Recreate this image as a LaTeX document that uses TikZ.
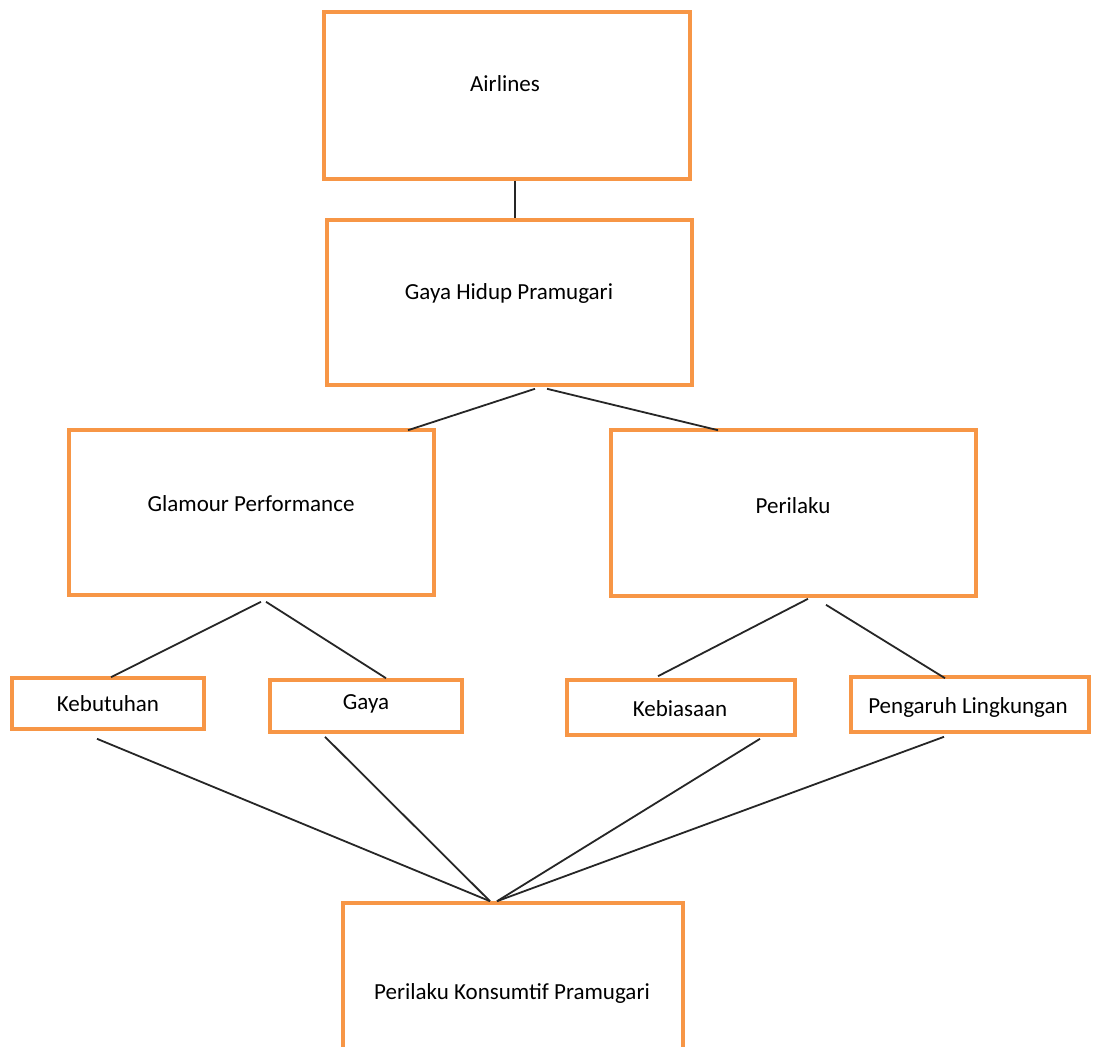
\documentclass[tikz,border=0pt]{standalone}
\usepackage{fontspec}
\setmainfont{Carlito}
\definecolor{boxorange}{RGB}{247,150,70}
\begin{document}
\begin{tikzpicture}[x=1pt,y=-1pt,
  box/.style={draw=boxorange,line width=3.6pt,rectangle,inner sep=0pt,fill=none},
  lbl/.style={font=\fontsize{23}{28}\selectfont,text=black},
  conn/.style={draw=black!85,line width=1.8pt}]
\fill[white] (0,0) rectangle (1094,1046);
\useasboundingbox (0,0) rectangle (1094,1046);
\clip (0,0) rectangle (1094,1046);
% boxes (empty), texts placed separately
\node[box,minimum width=366pt,minimum height=167pt] (air) at (507,95.5) {};
\node[box,minimum width=365pt,minimum height=165pt] (gh) at (509.5,302.5) {};
\node[box,minimum width=365pt,minimum height=165pt] (gl) at (251.5,512.5) {};
\node[box,minimum width=365pt,minimum height=166pt] (pe) at (793.5,513) {};
\node[box,minimum width=192pt,minimum height=51pt] (kb) at (108,703.5) {};
\node[box,minimum width=192pt,minimum height=52pt] (gy) at (366,706) {};
\node[box,minimum width=228pt,minimum height=55pt] (ki) at (681,707.5) {};
\node[box,minimum width=238pt,minimum height=55pt] (pg) at (970,704.5) {};
\node[box,minimum width=340pt,minimum height=180pt] (fn) at (513,993) {};
% texts
\node[lbl] (airT) at (505,84) {Airlines};
\node[lbl] (ghT) at (509,293) {Gaya Hidup Pramugari};
\node[lbl] (glT) at (251,504) {Glamour Performance};
\node[lbl] (peT) at (793,506) {Perilaku};
\node[lbl] (kbT) at (108,704) {Kebutuhan};
\node[lbl] (gyT) at (366,704) {Gaya};
\node[lbl] (kiT) at (680,709) {Kebiasaan};
\node[lbl] (pgT) at (968,707) {Pengaruh Lingkungan};
\node[lbl] (fnT) at (512,993) {Perilaku Konsumtif Pramugari};
% connectors
\draw[conn] ([xshift=8pt]air.south) -- ([xshift=5.5pt]gh.north);
\draw[conn] ([xshift=25.5pt,yshift=-2pt]gh.south) -- ([xshift=156.5pt,yshift=-2pt]gl.north);
\draw[conn] ([xshift=37.5pt,yshift=-2pt]gh.south) -- ([xshift=-75.5pt,yshift=-2pt]pe.north);
\draw[conn] ([xshift=9.5pt,yshift=-5pt]gl.south) -- ([xshift=3pt,yshift=-1pt]kb.north);
\draw[conn] ([xshift=14.5pt,yshift=-5pt]gl.south) -- ([xshift=20pt]gy.north);
\draw[conn] ([xshift=14.5pt,yshift=-1pt]pe.south) -- ([xshift=-23pt,yshift=2pt]ki.north);
\draw[conn] ([xshift=32.5pt,yshift=-7pt]pe.south) -- ([xshift=-25pt,yshift=-3pt]pg.north);
\draw[conn] ([xshift=-11pt,yshift=-8pt]kb.south) -- ([xshift=-23pt]fn.north);
\draw[conn] ([xshift=-41pt,yshift=-3pt]gy.south) -- ([xshift=-23pt]fn.north);
\draw[conn] ([xshift=79pt,yshift=-2pt]ki.south) -- ([xshift=-16pt]fn.north);
\draw[conn] ([xshift=-26pt,yshift=-3pt]pg.south) -- ([xshift=-16pt]fn.north);
\end{tikzpicture}
\end{document}
